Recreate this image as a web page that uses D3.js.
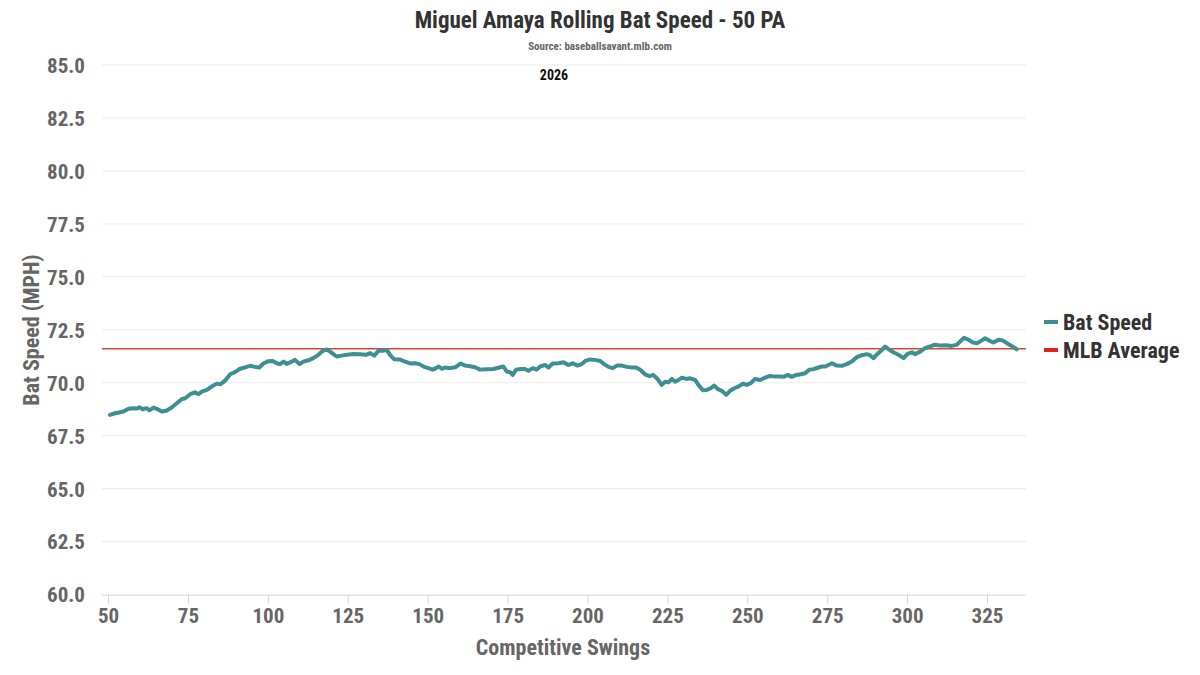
<!DOCTYPE html>
<html>
<head>
<meta charset="utf-8">
<script src="https://cdn.jsdelivr.net/npm/d3@7"></script>
<style>
  body { margin: 0; background: #fff; }
  svg text { font-family: "Roboto Condensed", "Liberation Sans Narrow", "Arial Narrow", sans-serif; font-weight: bold; }
</style>
</head>
<body>
<div id="chart"></div>
<script>
let width = 1200;
let height = 675;

// rolling 50 PA bat speed
let swings = [50.6, 52.2, 53.8, 54.8, 56.4, 57.9, 59.0, 59.8, 60.8, 62.1, 62.9, 64.2, 65.2, 66.8, 68.4, 69.9,
    71.5, 73.0, 74.1, 75.7, 77.2, 78.3, 79.3, 80.9, 82.4, 84.0, 85.2, 86.6, 88.2, 89.7, 91.3, 92.9, 94.4, 96.0,
    97.3, 98.6, 100.2, 101.5, 102.8, 103.8, 104.9, 105.9, 107.5, 108.5, 109.9, 111.1, 112.7, 114.2, 115.8, 117.2,
    118.4, 119.5, 120.5, 121.5, 123.1, 124.7, 126.8, 128.9, 130.7, 132.0, 133.3, 134.6, 135.9, 137.2, 138.2,
    139.5, 141.2, 142.9, 144.5, 146.1, 147.4, 148.9, 150.2, 151.6, 152.6, 153.5, 154.4, 155.4, 157.0, 158.6,
    160.3, 161.7, 163.3, 164.8, 166.4, 168.5, 170.6, 172.4, 173.7, 174.7, 175.8, 176.6, 177.7, 179.1, 180.5,
    181.5, 182.9, 184.1, 185.2, 186.7, 187.8, 189.1, 190.9, 192.5, 194.0, 195.4, 196.8, 198.2, 199.3, 200.8,
    202.4, 204.0, 205.2, 206.6, 207.9, 209.2, 210.7, 212.3, 213.9, 215.2, 216.5, 218.0, 219.4, 220.6, 221.9,
    223.2, 224.3, 225.3, 226.4, 227.4, 228.5, 229.5, 230.9, 232.1, 233.7, 234.7, 236.1, 237.3, 238.6, 239.6,
    240.7, 242.0, 243.4, 244.6, 245.9, 247.2, 248.6, 249.8, 251.1, 252.4, 254.0, 255.6, 257.1, 258.7, 260.3,
    261.5, 262.6, 263.9, 265.3, 266.7, 268.1, 269.4, 270.7, 272.3, 273.3, 274.4, 276.5, 278.0, 279.6, 281.1,
    282.7, 284.3, 285.8, 287.4, 288.4, 289.5, 290.7, 292.1, 293.1, 294.2, 295.7, 297.3, 298.9, 300.1, 301.5,
    302.5, 304.1, 305.6, 307.0, 308.5, 310.3, 312.2, 314.0, 315.6, 316.8, 317.8, 319.2, 320.6, 322.0, 323.4,
    324.4, 325.8, 327.0, 328.6, 329.9, 331.2, 332.7, 334.3];
let batSpeed = [68.48, 68.56, 68.61, 68.64, 68.77, 68.80, 68.78, 68.84, 68.75, 68.80, 68.70, 68.83, 68.77, 68.64, 68.69, 68.83,
    69.03, 69.22, 69.27, 69.46, 69.55, 69.46, 69.58, 69.66, 69.82, 69.96, 69.93, 70.10, 70.40, 70.50, 70.66, 70.73, 70.80, 70.75,
    70.72, 70.91, 71.02, 71.03, 70.92, 70.88, 71.00, 70.89, 71.00, 71.08, 70.88, 71.00, 71.06, 71.16, 71.32, 71.51,
    71.57, 71.47, 71.35, 71.24, 71.28, 71.32, 71.36, 71.35, 71.32, 71.40, 71.28, 71.51, 71.51, 71.55, 71.32,
    71.11, 71.10, 71.00, 70.91, 70.92, 70.88, 70.75, 70.69, 70.62, 70.69, 70.77, 70.66, 70.72, 70.69, 70.73,
    70.91, 70.81, 70.78, 70.73, 70.62, 70.64, 70.65, 70.72, 70.77, 70.53, 70.50, 70.37, 70.62, 70.65, 70.65,
    70.56, 70.69, 70.62, 70.77, 70.84, 70.72, 70.91, 70.92, 70.97, 70.84, 70.92, 70.81, 70.88, 71.03, 71.10,
    71.08, 71.03, 70.88, 70.75, 70.69, 70.81, 70.81, 70.75, 70.72, 70.72, 70.61, 70.40, 70.31, 70.37, 70.18,
    69.90, 70.05, 70.02, 70.18, 70.05, 70.13, 70.24, 70.18, 70.21, 70.13, 69.90, 69.65, 69.66, 69.74, 69.87,
    69.71, 69.62, 69.43, 69.62, 69.74, 69.82, 69.96, 69.90, 69.98, 70.18, 70.13, 70.24, 70.32, 70.29, 70.29,
    70.28, 70.37, 70.28, 70.37, 70.40, 70.45, 70.62, 70.64, 70.72, 70.77, 70.77, 70.92, 70.81, 70.80, 70.88,
    71.00, 71.21, 71.30, 71.35, 71.30, 71.16, 71.36, 71.55, 71.71, 71.58, 71.44, 71.32, 71.16, 71.36, 71.44,
    71.35, 71.47, 71.63, 71.71, 71.79, 71.76, 71.77, 71.74, 71.80, 71.98, 72.12, 72.03, 71.90, 71.87, 72.00,
    72.10, 71.98, 71.90, 72.03, 72.00, 71.87, 71.74, 71.58];
let mlbAverage = 71.6;

let yTicks = [60, 62.5, 65, 67.5, 70, 72.5, 75, 77.5, 80, 82.5, 85];
let xTicks = [50, 75, 100, 125, 150, 175, 200, 225, 250, 275, 300, 325];
let legendItems = ["Bat Speed", "MLB Average"];
let legendColors = ["#3e8f93", "#e0201b"];

let plot = { left: 102, right: 1026, top: 65, bottom: 594.6 };

let svg = d3.select("#chart").append("svg")
    .attr("width", width).attr("height", height);

let x = d3.scaleLinear().domain([48.1, 337.2]).range([plot.left, plot.right]);
let y = d3.scaleLinear().domain([60, 85]).range([plot.bottom, plot.top]);

// grid
svg.append("g").selectAll("line").data(yTicks.slice(1)).join("line")
    .attr("x1", plot.left).attr("x2", plot.right)
    .attr("y1", d => y(d)).attr("y2", d => y(d))
    .attr("stroke", "#ebebeb").attr("stroke-width", 1);

// y axis labels
let yAxis = svg.append("g").attr("transform", `translate(${plot.left - 14},0)`)
    .call(d3.axisLeft(y).tickValues(yTicks).tickFormat(d3.format(".1f")).tickSize(0));
yAxis.select(".domain").remove();
yAxis.selectAll("text").attr("fill", "#666").style("font-size", "21px").attr("dy", "0.35em");

// x axis
let xAxis = svg.append("g").attr("transform", `translate(0,${plot.bottom})`)
    .call(d3.axisBottom(x).tickValues(xTicks).tickSize(9).tickPadding(4));
xAxis.select(".domain").attr("stroke", "#ccd6eb").attr("d", `M${plot.left},0.5H${plot.right}`);
xAxis.selectAll(".tick line").attr("stroke", "#ccd6eb");
xAxis.selectAll("text").attr("fill", "#666").style("font-size", "21px");

// MLB average
svg.append("line")
    .attr("x1", plot.left).attr("x2", plot.right)
    .attr("y1", y(mlbAverage)).attr("y2", y(mlbAverage))
    .attr("stroke", "#e0442e").attr("stroke-width", 1.5);

// bat speed line
let line = d3.line().x((d, i) => x(swings[i])).y(d => y(d)).curve(d3.curveLinear);
svg.append("path").datum(batSpeed)
    .attr("d", line)
    .attr("fill", "none")
    .attr("stroke", legendColors[0])
    .attr("stroke-width", 4)
    .attr("stroke-linejoin", "round")
    .attr("stroke-linecap", "round");

// titles
svg.append("text").attr("x", 600).attr("y", 28).attr("text-anchor", "middle")
    .attr("fill", "#333").style("font-size", "23px")
    .text("Miguel Amaya Rolling Bat Speed - 50 PA");
svg.append("text").attr("x", 600).attr("y", 50).attr("text-anchor", "middle")
    .attr("fill", "#666").style("font-size", "11px")
    .text("Source: baseballsavant.mlb.com");
svg.append("text").attr("x", 554).attr("y", 80).attr("text-anchor", "middle")
    .attr("fill", "#111").style("font-size", "14px")
    .text("2026");

// axis titles
svg.append("text").attr("x", 563).attr("y", 655).attr("text-anchor", "middle")
    .attr("fill", "#666").style("font-size", "22px")
    .text("Competitive Swings");
svg.append("text").attr("transform", `translate(39,330) rotate(-90)`)
    .attr("text-anchor", "middle")
    .attr("fill", "#666").style("font-size", "22px")
    .text("Bat Speed (MPH)");

// legend
let legend = svg.append("g").attr("transform", "translate(1044,322)");
legend.selectAll("line").data(legendItems).join("line")
    .attr("x1", 0).attr("x2", 14)
    .attr("y1", (d, i) => i * 28).attr("y2", (d, i) => i * 28)
    .attr("stroke", (d, i) => legendColors[i]).attr("stroke-width", 4);
legend.selectAll("text").data(legendItems).join("text")
    .attr("x", 19).attr("y", (d, i) => i * 28).attr("dy", "0.35em")
    .attr("fill", "#333").style("font-size", "22px")
    .text(d => d);
</script>
</body>
</html>
